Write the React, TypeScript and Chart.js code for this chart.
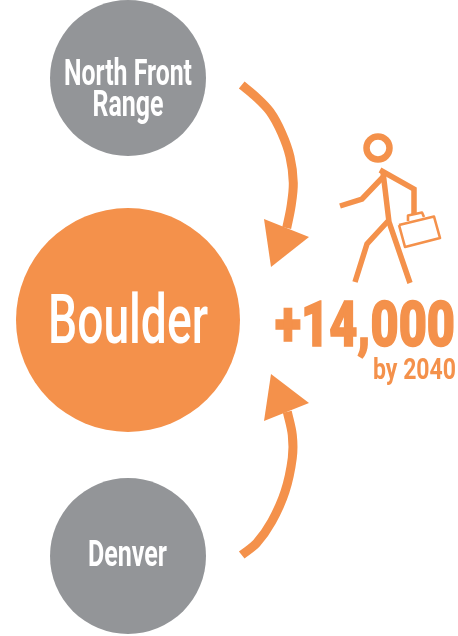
import React, { useEffect, useRef } from "react";
import { Chart, registerables } from "chart.js";

Chart.register(...registerables);

const ORANGE = "#F4914B";
const GREY = "#939598";

type P = { x: number; y: number };
const pts = (a: number[][]): P[] => a.map(([x, y]) => ({ x, y }));

// circles: x, y, radius
const greyCircles = [
  { x: 128, y: 78, r: 78 },
  { x: 128, y: 556, r: 78 },
];
const orangeCircles = [{ x: 128, y: 320, r: 112 }];
const headCircle = [{ x: 378, y: 148, r: 11.5 }];

// arrows
const arrowTop = pts([[241.7, 85], [255, 96], [270, 111.7], [281.7, 133], [290, 156.7], [293.3, 183], [291, 206.7], [286.7, 228]]);
const arrowTopHead = pts([[264, 219], [309, 237], [271, 267], [264, 219]]);
const arrowBottom = pts([[241.7, 555], [256.7, 543], [271.7, 521.7], [285, 491.7], [292.3, 458], [292.3, 435], [287.3, 411.7]]);
const arrowBottomHead = pts([[271, 374], [309, 403], [264, 421], [271, 374]]);

// person
const body = pts([[383, 172], [389, 222], [410, 283]]);
const frontLeg = pts([[389, 220], [367, 244], [355, 282]]);
const backArm = pts([[383, 177], [362, 199], [340, 206]]);
const frontArm = pts([[380, 170], [414, 189], [414, 214]]);
const briefcase = pts([[399, 225], [434, 216.5], [440, 238], [405, 247], [399, 225]]);
const handle = pts([[408, 221], [408, 215.5], [422, 212.5], [424, 217]]);

// texts
const labels = ["North Front", "Range", "Boulder", "Denver", "+14,000", "by 2040"];
const labelX = [128, 128, 128, 127.5, 365, 414.5];
const labelY = [85, 116, 343, 566, 346, 379];
const labelSize = [37, 37, 69, 37, 63, 30];
const labelWidth = [128, 71, 160, 79, 180, 83];
const labelWeight = [700, 700, 500, 700, 900, 700];
const labelStroke = [0, 0, 0, 0, 1.6, 0];
const labelColor = ["#fff", "#fff", "#fff", "#fff", ORANGE, ORANGE];

const textPlugin = {
  id: "labels",
  afterDatasetsDraw(chart: any) {
    const { ctx, scales } = chart;
    labels.forEach((t, i) => {
      ctx.save();
      ctx.font = `${labelWeight[i]} ${labelSize[i]}px Roboto, sans-serif`;
      ctx.fillStyle = labelColor[i];
      ctx.strokeStyle = labelColor[i];
      ctx.lineWidth = labelStroke[i];
      ctx.textAlign = "center";
      ctx.textBaseline = "alphabetic";
      const k = labelWidth[i] / ctx.measureText(t).width;
      ctx.translate(scales.x.getPixelForValue(labelX[i]), scales.y.getPixelForValue(labelY[i]));
      ctx.scale(k, 1);
      ctx.fillText(t, 0, 0);
      if (labelStroke[i] > 0) ctx.strokeText(t, 0, 0);
      ctx.restore();
    });
  },
};

const line = (data: P[], width: number, tension = 0, extra: any = {}) => ({
  type: "line" as const,
  data,
  borderColor: ORANGE,
  backgroundColor: ORANGE,
  borderWidth: width,
  tension,
  pointRadius: 0,
  fill: false,
  borderCapStyle: "butt",
  borderJoinStyle: "miter",
  ...extra,
});

export default function App() {
  const ref = useRef<HTMLCanvasElement>(null);
  useEffect(() => {
    document.body.style.margin = "0";
    document.body.style.background = "#fff";
    const chart = new Chart(ref.current!, {
      type: "bubble",
      data: {
        datasets: [
          { data: greyCircles, backgroundColor: GREY, borderWidth: 0 },
          { data: orangeCircles, backgroundColor: ORANGE, borderWidth: 0 },
          { data: headCircle, backgroundColor: "rgba(0,0,0,0)", borderColor: ORANGE, borderWidth: 6.5 },
          line(arrowTop, 9, 0.35),
          line(arrowTopHead, 0, 0, { fill: "shape" }),
          line(arrowBottom, 9, 0.35),
          line(arrowBottomHead, 0, 0, { fill: "shape" }),
          line(body, 5.5),
          line(frontLeg, 5.5),
          line(backArm, 5.5),
          line(frontArm, 5.5),
          line(briefcase, 2.6, 0, { borderJoinStyle: "round" }),
          line(handle, 2.6, 0, { borderJoinStyle: "round" }),
        ] as any,
      },
      options: {
        animation: false,
        responsive: false,
        maintainAspectRatio: false,
        layout: { padding: 0, autoPadding: false },
        clip: false,
        plugins: { legend: { display: false }, tooltip: { enabled: false } },
        scales: {
          x: { type: "linear", min: 0, max: 458, display: false },
          y: { type: "linear", min: 0, max: 636, reverse: true, display: false },
        },
      } as any,
      plugins: [textPlugin],
    });
    return () => chart.destroy();
  }, []);
  return (
    <div style={{ width: 458, height: 636 }}>
      <canvas ref={ref} width={458} height={636} style={{ display: "block" }} />
    </div>
  );
}
